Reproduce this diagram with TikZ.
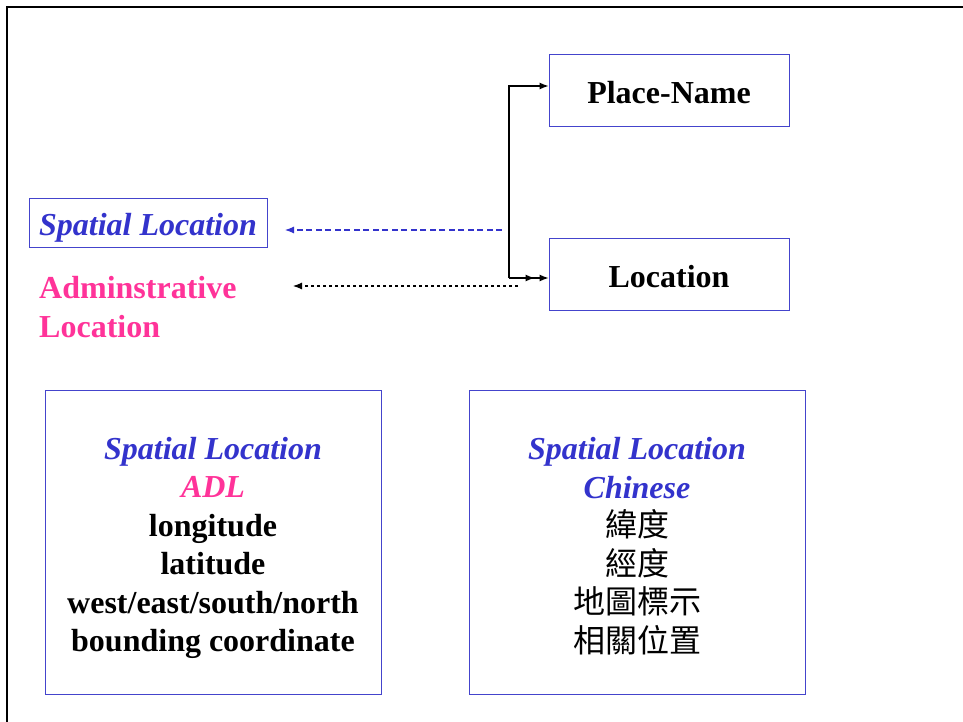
\documentclass[tikz,border=0pt]{standalone}
\usepackage{fontspec}
\setmainfont{Liberation Serif}
\newfontfamily\cjk{Noto Sans CJK TC}
\usetikzlibrary{arrows.meta}
\definecolor{sblue}{HTML}{3333CC}
\definecolor{spink}{HTML}{FF3399}
\definecolor{bline}{HTML}{4444CC}
\tikzset{
  big/.style={font=\fontsize{32}{38.5}\selectfont\bfseries, inner sep=0pt},
  boxnode/.style={draw=bline, line width=0.9pt, inner sep=0pt},
  tip/.style={-{Latex[length=9pt,width=7pt]}},
  frame/.style={line width=2pt, black}
}
\begin{document}
\begin{tikzpicture}[x=1pt,y=-1pt]
\useasboundingbox (0,0) rectangle (963,722);
% frame
\draw[frame] (7,722) -- (7,7) -- (963,7);
% top right boxes
\node[boxnode, minimum width=240pt, minimum height=72pt] (pn) at (669,90) {};
\node[big] (pnt) at (669,93) {Place-Name};
\node[boxnode, minimum width=240pt, minimum height=72pt] (loc) at (669,274) {};
\node[big] (loct) at (669,277) {Location};
% spatial location box
\node[boxnode, minimum width=238pt, minimum height=49pt] (sl) at (148,222.5) {};
\node[big, text=sblue, font=\fontsize{32}{38.5}\selectfont\bfseries\itshape] (slt) at (148,227.5) {Spatial Location};
% administrative location text
\node[big, text=spink, align=left, anchor=west] (al) at (39,307) {Adminstrative\\Location};
% bottom boxes
\node[boxnode, minimum width=336pt, minimum height=304pt] (adl) at (213,542) {};
\node[big, align=center] (adlt) at (213,548)
  {\textcolor{sblue}{\textit{Spatial Location}}\\
   \textcolor{spink}{\textit{ADL}}\\
   longitude\\latitude\\west/east/south/north\\bounding coordinate};
\node[boxnode, minimum width=336pt, minimum height=304pt] (chi) at (637,542) {};
\node[big, align=center] (chit) at (637,546)
  {\textcolor{sblue}{\textit{Spatial Location}}\\
   \textcolor{sblue}{\textit{Chinese}}\\
   {\cjk\mdseries 緯度}\\{\cjk\mdseries 經度}\\{\cjk\mdseries 地圖標示}\\{\cjk\mdseries 相關位置}};
% connectors
\coordinate (j1) at (509,86);
\coordinate (j2) at (509,278);
\draw[line width=1.2pt, tip] (j2) -- (j1) -- (j1 -| pn.west);
\draw[line width=1.2pt, -{Latex[length=9pt,width=7pt,sep=5pt] Latex[length=9pt,width=7pt]}] (j2) -- (j2 -| loc.west);
\coordinate (b1) at (502,230);
\coordinate (b2) at (285,230);
\draw[sblue, line width=1.1pt, dash pattern=on 6pt off 3.5pt, tip] (b1) -- (b2);
\coordinate (k1) at (518,286);
\coordinate (k2) at (293,286);
\draw[black, line width=1.1pt, dash pattern=on 3pt off 3pt, tip] (k1) -- (k2);
\end{tikzpicture}
\end{document}
